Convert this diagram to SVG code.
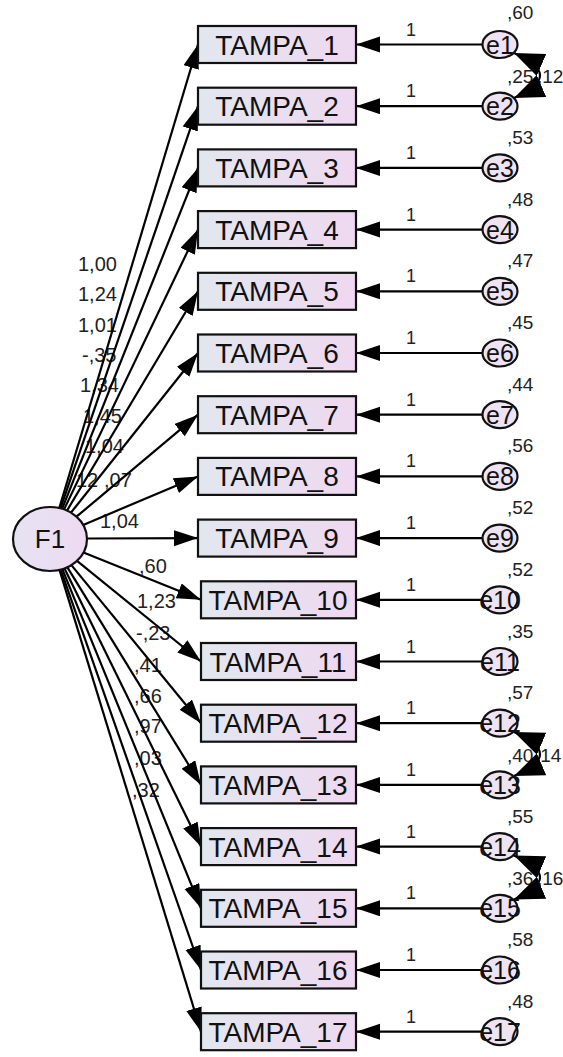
<svg xmlns="http://www.w3.org/2000/svg" width="563" height="1057" viewBox="0 0 563 1057">
<defs>
<linearGradient id="gBox" x1="0" y1="0" x2="1" y2="0"><stop offset="0" stop-color="#e2e7ef"/><stop offset="1" stop-color="#efd8f0"/></linearGradient>
<linearGradient id="gEl" x1="0" y1="0" x2="1" y2="0"><stop offset="0" stop-color="#e6e3f2"/><stop offset="1" stop-color="#eedaf2"/></linearGradient>
<marker id="ah" markerUnits="userSpaceOnUse" markerWidth="26" markerHeight="18" refX="24" refY="8" orient="auto"><path d="M0,0 L24,8 L0,16 z" fill="#000"/></marker>
<marker id="ahc" markerUnits="userSpaceOnUse" markerWidth="32" markerHeight="26" refX="30" refY="12" orient="auto-start-reverse"><path d="M0,0 L30,12 L0,24 z" fill="#000"/></marker>
</defs>
<style>
.box{fill:url(#gBox);stroke:#111;stroke-width:2.2}
.el{fill:url(#gEl);stroke:#111;stroke-width:2.2}
.err{fill:#ede3f3;stroke:#111;stroke-width:2.2}
.bt{font-family:"Liberation Sans",Arial,sans-serif;font-size:28px;fill:#111;text-anchor:middle}
.et{font-family:"Liberation Sans",Arial,sans-serif;font-size:25px;fill:#111;text-anchor:middle}
.ft{font-family:"Liberation Sans",Arial,sans-serif;font-size:26px;fill:#111;text-anchor:middle}
.lb{font-family:"Liberation Sans",Arial,sans-serif;font-size:20px;fill:#222}
.one{font-family:"Liberation Sans",Arial,sans-serif;font-size:18px;fill:#222;text-anchor:middle}
.vr{font-family:"Liberation Sans",Arial,sans-serif;font-size:19px;fill:#222}
.c{stroke:#000;stroke-width:2.2;fill:none;marker-end:url(#ah)}
.cv{stroke:#000;stroke-width:2.2;fill:none;marker-start:url(#ahc);marker-end:url(#ahc)}
</style>
<g id="labels">
<text class="lb" x="78" y="271">1,00</text>
<text class="lb" x="78" y="301">1,24</text>
<text class="lb" x="78" y="332">1,01</text>
<text class="lb" x="82" y="362">-,35</text>
<text class="lb" x="80" y="392">1,34</text>
<text class="lb" x="83" y="423">1,45</text>
<text class="lb" x="85" y="453">1,04</text>
<text class="lb" x="76" y="487">12</text>
<text class="lb" x="104" y="487">,07</text>
<text class="lb" x="100" y="528">1,04</text>
<text class="lb" x="139" y="573">,60</text>
<text class="lb" x="137" y="608">1,23</text>
<text class="lb" x="136" y="640">-,23</text>
<text class="lb" x="134" y="672">,41</text>
<text class="lb" x="134" y="703">,66</text>
<text class="lb" x="134" y="733">,97</text>
<text class="lb" x="134" y="765">,03</text>
<text class="lb" x="132" y="797">,32</text>
<text class="one" x="411" y="35.5">1</text>
<text class="one" x="411" y="97.2">1</text>
<text class="one" x="411" y="158.9">1</text>
<text class="one" x="411" y="220.6">1</text>
<text class="one" x="411" y="282.3">1</text>
<text class="one" x="411" y="344">1</text>
<text class="one" x="411" y="405.7">1</text>
<text class="one" x="411" y="467.4">1</text>
<text class="one" x="411" y="529.1">1</text>
<text class="one" x="411" y="590.8">1</text>
<text class="one" x="411" y="652.5">1</text>
<text class="one" x="411" y="714.2">1</text>
<text class="one" x="411" y="775.9">1</text>
<text class="one" x="411" y="837.6">1</text>
<text class="one" x="411" y="899.3">1</text>
<text class="one" x="411" y="961">1</text>
<text class="one" x="411" y="1022.7">1</text>
<text class="vr" x="507" y="19">,60</text>
<text class="vr" x="507" y="83">,25</text>
<text class="vr" x="507" y="143.9">,53</text>
<text class="vr" x="507" y="205.6">,48</text>
<text class="vr" x="507" y="267.3">,47</text>
<text class="vr" x="507" y="329">,45</text>
<text class="vr" x="507" y="390.7">,44</text>
<text class="vr" x="507" y="452.4">,56</text>
<text class="vr" x="507" y="514.1">,52</text>
<text class="vr" x="507" y="575.8">,52</text>
<text class="vr" x="507" y="637.5">,35</text>
<text class="vr" x="507" y="699.2">,57</text>
<text class="vr" x="507" y="762">,40</text>
<text class="vr" x="507" y="822.6">,55</text>
<text class="vr" x="507" y="885">,36</text>
<text class="vr" x="507" y="946">,58</text>
<text class="vr" x="507" y="1007.7">,48</text>
<text class="vr" x="537" y="83">,12</text>
<text class="vr" x="535" y="762">,14</text>
<text class="vr" x="537" y="885">,16</text>
</g>
<g id="connectors">
<line class="c" x1="59.3" y1="508" x2="198" y2="44.5"/>
<line class="c" x1="60.5" y1="508.3" x2="198" y2="106.2"/>
<line class="c" x1="62.1" y1="508.8" x2="198" y2="167.9"/>
<line class="c" x1="64.1" y1="509.4" x2="198" y2="229.6"/>
<line class="c" x1="67" y1="510.6" x2="198" y2="291.3"/>
<line class="c" x1="71" y1="512.6" x2="198" y2="353"/>
<line class="c" x1="76.5" y1="516.7" x2="198" y2="414.7"/>
<line class="c" x1="83.2" y1="524.9" x2="198" y2="476.4"/>
<line class="c" x1="87" y1="538.5" x2="198" y2="538.1"/>
<line class="c" x1="83.5" y1="552.5" x2="201" y2="599.8"/>
<line class="c" x1="77" y1="560.9" x2="201" y2="661.5"/>
<line class="c" x1="71.4" y1="565.1" x2="201" y2="723.2"/>
<line class="c" x1="67.4" y1="567.3" x2="201" y2="784.9"/>
<line class="c" x1="64.5" y1="568.5" x2="201" y2="846.6"/>
<line class="c" x1="62.3" y1="569.2" x2="201" y2="908.3"/>
<line class="c" x1="60.7" y1="569.6" x2="201" y2="970"/>
<line class="c" x1="59.5" y1="569.9" x2="201" y2="1031.7"/>
<line class="c" x1="482" y1="44.5" x2="356" y2="44.5"/>
<line class="c" x1="482" y1="106.2" x2="356" y2="106.2"/>
<line class="c" x1="482" y1="167.9" x2="356" y2="167.9"/>
<line class="c" x1="482" y1="229.6" x2="356" y2="229.6"/>
<line class="c" x1="482" y1="291.3" x2="356" y2="291.3"/>
<line class="c" x1="482" y1="353" x2="356" y2="353"/>
<line class="c" x1="482" y1="414.7" x2="356" y2="414.7"/>
<line class="c" x1="482" y1="476.4" x2="356" y2="476.4"/>
<line class="c" x1="482" y1="538.1" x2="356" y2="538.1"/>
<line class="c" x1="482" y1="599.8" x2="356" y2="599.8"/>
<line class="c" x1="482" y1="661.5" x2="356" y2="661.5"/>
<line class="c" x1="482" y1="723.2" x2="356" y2="723.2"/>
<line class="c" x1="482" y1="784.9" x2="356" y2="784.9"/>
<line class="c" x1="482" y1="846.6" x2="356" y2="846.6"/>
<line class="c" x1="482" y1="908.3" x2="356" y2="908.3"/>
<line class="c" x1="482" y1="970" x2="356" y2="970"/>
<line class="c" x1="482" y1="1031.7" x2="356" y2="1031.7"/>
<path class="cv" d="M514,53 Q566,75.5 514,98"/>
<path class="cv" d="M514,732 Q566,754 514,776"/>
<path class="cv" d="M514,855.5 Q566,877.5 514,899.5"/>
</g>
<g id="F1"><ellipse class="el" cx="50" cy="539" rx="37" ry="32"/><text class="ft" x="50" y="548">F1</text></g>
<g id="TAMPA_1"><rect class="box" x="198" y="26" width="158" height="37"/><text class="bt" x="277" y="54.5">TAMPA_1</text></g>
<g id="TAMPA_2"><rect class="box" x="198" y="87.7" width="158" height="37"/><text class="bt" x="277" y="116.2">TAMPA_2</text></g>
<g id="TAMPA_3"><rect class="box" x="198" y="149.4" width="158" height="37"/><text class="bt" x="277" y="177.9">TAMPA_3</text></g>
<g id="TAMPA_4"><rect class="box" x="198" y="211.1" width="158" height="37"/><text class="bt" x="277" y="239.6">TAMPA_4</text></g>
<g id="TAMPA_5"><rect class="box" x="198" y="272.8" width="158" height="37"/><text class="bt" x="277" y="301.3">TAMPA_5</text></g>
<g id="TAMPA_6"><rect class="box" x="198" y="334.5" width="158" height="37"/><text class="bt" x="277" y="363">TAMPA_6</text></g>
<g id="TAMPA_7"><rect class="box" x="198" y="396.2" width="158" height="37"/><text class="bt" x="277" y="424.7">TAMPA_7</text></g>
<g id="TAMPA_8"><rect class="box" x="198" y="457.9" width="158" height="37"/><text class="bt" x="277" y="486.4">TAMPA_8</text></g>
<g id="TAMPA_9"><rect class="box" x="198" y="519.6" width="158" height="37"/><text class="bt" x="277" y="548.1">TAMPA_9</text></g>
<g id="TAMPA_10"><rect class="box" x="201" y="581.3" width="155" height="37"/><text class="bt" x="278" y="609.8">TAMPA_10</text></g>
<g id="TAMPA_11"><rect class="box" x="201" y="643" width="155" height="37"/><text class="bt" x="278" y="671.5">TAMPA_11</text></g>
<g id="TAMPA_12"><rect class="box" x="201" y="704.7" width="155" height="37"/><text class="bt" x="278" y="733.2">TAMPA_12</text></g>
<g id="TAMPA_13"><rect class="box" x="201" y="766.4" width="155" height="37"/><text class="bt" x="278" y="794.9">TAMPA_13</text></g>
<g id="TAMPA_14"><rect class="box" x="201" y="828.1" width="155" height="37"/><text class="bt" x="278" y="856.6">TAMPA_14</text></g>
<g id="TAMPA_15"><rect class="box" x="201" y="889.8" width="155" height="37"/><text class="bt" x="278" y="918.3">TAMPA_15</text></g>
<g id="TAMPA_16"><rect class="box" x="201" y="951.5" width="155" height="37"/><text class="bt" x="278" y="980">TAMPA_16</text></g>
<g id="TAMPA_17"><rect class="box" x="201" y="1013.2" width="155" height="37"/><text class="bt" x="278" y="1041.7">TAMPA_17</text></g>
<g id="e1"><ellipse class="err" cx="500" cy="44.5" rx="17.5" ry="13.5"/><text class="et" x="500" y="53.5">e1</text></g>
<g id="e2"><ellipse class="err" cx="500" cy="106.2" rx="17.5" ry="13.5"/><text class="et" x="500" y="115.2">e2</text></g>
<g id="e3"><ellipse class="err" cx="500" cy="167.9" rx="17.5" ry="13.5"/><text class="et" x="500" y="176.9">e3</text></g>
<g id="e4"><ellipse class="err" cx="500" cy="229.6" rx="17.5" ry="13.5"/><text class="et" x="500" y="238.6">e4</text></g>
<g id="e5"><ellipse class="err" cx="500" cy="291.3" rx="17.5" ry="13.5"/><text class="et" x="500" y="300.3">e5</text></g>
<g id="e6"><ellipse class="err" cx="500" cy="353" rx="17.5" ry="13.5"/><text class="et" x="500" y="362">e6</text></g>
<g id="e7"><ellipse class="err" cx="500" cy="414.7" rx="17.5" ry="13.5"/><text class="et" x="500" y="423.7">e7</text></g>
<g id="e8"><ellipse class="err" cx="500" cy="476.4" rx="17.5" ry="13.5"/><text class="et" x="500" y="485.4">e8</text></g>
<g id="e9"><ellipse class="err" cx="500" cy="538.1" rx="17.5" ry="13.5"/><text class="et" x="500" y="547.1">e9</text></g>
<g id="e10"><ellipse class="err" cx="500" cy="599.8" rx="17.5" ry="13.5"/><text class="et" x="500" y="608.8">e10</text></g>
<g id="e11"><ellipse class="err" cx="500" cy="661.5" rx="17.5" ry="13.5"/><text class="et" x="500" y="670.5">e11</text></g>
<g id="e12"><ellipse class="err" cx="500" cy="723.2" rx="17.5" ry="13.5"/><text class="et" x="500" y="732.2">e12</text></g>
<g id="e13"><ellipse class="err" cx="500" cy="784.9" rx="17.5" ry="13.5"/><text class="et" x="500" y="793.9">e13</text></g>
<g id="e14"><ellipse class="err" cx="500" cy="846.6" rx="17.5" ry="13.5"/><text class="et" x="500" y="855.6">e14</text></g>
<g id="e15"><ellipse class="err" cx="500" cy="908.3" rx="17.5" ry="13.5"/><text class="et" x="500" y="917.3">e15</text></g>
<g id="e16"><ellipse class="err" cx="500" cy="970" rx="17.5" ry="13.5"/><text class="et" x="500" y="979">e16</text></g>
<g id="e17"><ellipse class="err" cx="500" cy="1031.7" rx="17.5" ry="13.5"/><text class="et" x="500" y="1040.7">e17</text></g>
</svg>
